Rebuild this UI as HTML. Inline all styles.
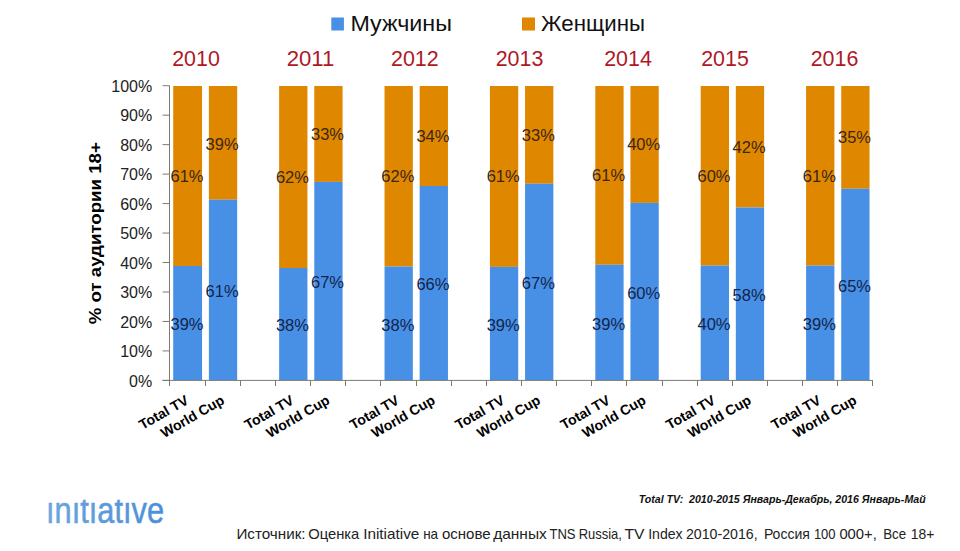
<!DOCTYPE html>
<html lang="ru"><head><meta charset="utf-8"><title>chart</title>
<style>html,body{margin:0;padding:0;background:#fff}body{width:960px;height:551px;overflow:hidden}svg{display:block}text{font-family:"Liberation Sans", sans-serif}</style></head><body>
<svg width="960" height="551" viewBox="0 0 960 551">
<rect width="960" height="551" fill="#fff"/>
<rect x="331.3" y="17.5" width="12.6" height="13" fill="#4890E6"/>
<text x="350.4" y="30.8" font-size="21.2" fill="#111" textLength="101.5" lengthAdjust="spacingAndGlyphs">Мужчины</text>
<rect x="522" y="17.5" width="13" height="13" fill="#E08700"/>
<text x="541" y="30.8" font-size="21.2" fill="#111" textLength="104" lengthAdjust="spacingAndGlyphs">Женщины</text>
<text x="196.0" y="66" font-size="22.5" fill="#B01825" text-anchor="middle" textLength="47.6" lengthAdjust="spacingAndGlyphs">2010</text>
<text x="310.5" y="66" font-size="22.5" fill="#B01825" text-anchor="middle" textLength="47.6" lengthAdjust="spacingAndGlyphs">2011</text>
<text x="414.8" y="66" font-size="22.5" fill="#B01825" text-anchor="middle" textLength="47.6" lengthAdjust="spacingAndGlyphs">2012</text>
<text x="519.5" y="66" font-size="22.5" fill="#B01825" text-anchor="middle" textLength="47.6" lengthAdjust="spacingAndGlyphs">2013</text>
<text x="628.0" y="66" font-size="22.5" fill="#B01825" text-anchor="middle" textLength="47.6" lengthAdjust="spacingAndGlyphs">2014</text>
<text x="725.0" y="66" font-size="22.5" fill="#B01825" text-anchor="middle" textLength="47.6" lengthAdjust="spacingAndGlyphs">2015</text>
<text x="834.5" y="66" font-size="22.5" fill="#B01825" text-anchor="middle" textLength="47.6" lengthAdjust="spacingAndGlyphs">2016</text>
<rect x="173.20" y="86.00" width="28.85" height="180.00" fill="#E08700"/>
<rect x="173.20" y="266.00" width="28.85" height="114.40" fill="#4890E6"/>
<rect x="208.88" y="86.00" width="28.30" height="113.70" fill="#E08700"/>
<rect x="208.88" y="199.70" width="28.30" height="180.70" fill="#4890E6"/>
<rect x="279.14" y="86.00" width="28.30" height="182.00" fill="#E08700"/>
<rect x="279.14" y="268.00" width="28.30" height="112.40" fill="#4890E6"/>
<rect x="314.27" y="86.00" width="28.30" height="95.90" fill="#E08700"/>
<rect x="314.27" y="181.90" width="28.30" height="198.50" fill="#4890E6"/>
<rect x="384.53" y="86.00" width="28.30" height="180.50" fill="#E08700"/>
<rect x="384.53" y="266.50" width="28.30" height="113.90" fill="#4890E6"/>
<rect x="419.66" y="86.00" width="28.30" height="100.00" fill="#E08700"/>
<rect x="419.66" y="186.00" width="28.30" height="194.40" fill="#4890E6"/>
<rect x="489.92" y="86.00" width="28.30" height="180.90" fill="#E08700"/>
<rect x="489.92" y="266.90" width="28.30" height="113.50" fill="#4890E6"/>
<rect x="525.05" y="86.00" width="28.30" height="97.75" fill="#E08700"/>
<rect x="525.05" y="183.75" width="28.30" height="196.65" fill="#4890E6"/>
<rect x="595.31" y="86.00" width="28.30" height="178.75" fill="#E08700"/>
<rect x="595.31" y="264.75" width="28.30" height="115.65" fill="#4890E6"/>
<rect x="630.44" y="86.00" width="28.30" height="116.90" fill="#E08700"/>
<rect x="630.44" y="202.90" width="28.30" height="177.50" fill="#4890E6"/>
<rect x="700.70" y="86.00" width="28.30" height="179.60" fill="#E08700"/>
<rect x="700.70" y="265.60" width="28.30" height="114.80" fill="#4890E6"/>
<rect x="735.83" y="86.00" width="28.30" height="121.50" fill="#E08700"/>
<rect x="735.83" y="207.50" width="28.30" height="172.90" fill="#4890E6"/>
<rect x="806.09" y="86.00" width="28.30" height="179.60" fill="#E08700"/>
<rect x="806.09" y="265.60" width="28.30" height="114.80" fill="#4890E6"/>
<rect x="841.22" y="86.00" width="28.30" height="102.75" fill="#E08700"/>
<rect x="841.22" y="188.75" width="28.30" height="191.65" fill="#4890E6"/>
<g stroke="#7e7a72" stroke-width="1" fill="none">
<path d="M169.5 85.7V380.4"/>
<path d="M162.5 380.4H873.0"/>
<path d="M162.5 380.40H169.5"/>
<path d="M162.5 350.93H169.5"/>
<path d="M162.5 321.46H169.5"/>
<path d="M162.5 291.99H169.5"/>
<path d="M162.5 262.52H169.5"/>
<path d="M162.5 233.05H169.5"/>
<path d="M162.5 203.58H169.5"/>
<path d="M162.5 174.11H169.5"/>
<path d="M162.5 144.64H169.5"/>
<path d="M162.5 115.17H169.5"/>
<path d="M162.5 85.70H169.5"/>
<path d="M169.50 380.4V386.0"/>
<path d="M205.50 380.4V386.0"/>
<path d="M240.50 380.4V386.0"/>
<path d="M275.50 380.4V386.0"/>
<path d="M310.50 380.4V386.0"/>
<path d="M345.50 380.4V386.0"/>
<path d="M380.50 380.4V386.0"/>
<path d="M416.50 380.4V386.0"/>
<path d="M451.50 380.4V386.0"/>
<path d="M486.50 380.4V386.0"/>
<path d="M521.50 380.4V386.0"/>
<path d="M556.50 380.4V386.0"/>
<path d="M591.50 380.4V386.0"/>
<path d="M626.50 380.4V386.0"/>
<path d="M662.50 380.4V386.0"/>
<path d="M697.50 380.4V386.0"/>
<path d="M732.50 380.4V386.0"/>
<path d="M767.50 380.4V386.0"/>
<path d="M802.50 380.4V386.0"/>
<path d="M837.50 380.4V386.0"/>
<path d="M872.50 380.4V386.0"/>
</g>
<text x="152.2" y="386.6" font-size="16" fill="#222" text-anchor="end">0%</text>
<text x="152.2" y="357.1" font-size="16" fill="#222" text-anchor="end">10%</text>
<text x="152.2" y="327.7" font-size="16" fill="#222" text-anchor="end">20%</text>
<text x="152.2" y="298.2" font-size="16" fill="#222" text-anchor="end">30%</text>
<text x="152.2" y="268.7" font-size="16" fill="#222" text-anchor="end">40%</text>
<text x="152.2" y="239.2" font-size="16" fill="#222" text-anchor="end">50%</text>
<text x="152.2" y="209.8" font-size="16" fill="#222" text-anchor="end">60%</text>
<text x="152.2" y="180.3" font-size="16" fill="#222" text-anchor="end">70%</text>
<text x="152.2" y="150.8" font-size="16" fill="#222" text-anchor="end">80%</text>
<text x="152.2" y="121.4" font-size="16" fill="#222" text-anchor="end">90%</text>
<text x="152.2" y="91.9" font-size="16" fill="#222" text-anchor="end">100%</text>
<text transform="translate(100.6 233.2) rotate(-90)" font-size="17" font-weight="bold" fill="#000" text-anchor="middle" textLength="182" lengthAdjust="spacingAndGlyphs">% от аудитории 18+</text>
<text x="187.0" y="330.4" font-size="16.8" fill="#12244a" text-anchor="middle" textLength="33" lengthAdjust="spacingAndGlyphs">39%</text>
<text x="187.0" y="181.9" font-size="16.8" fill="#3a2614" text-anchor="middle" textLength="33" lengthAdjust="spacingAndGlyphs">61%</text>
<text x="222.1" y="297.2" font-size="16.8" fill="#12244a" text-anchor="middle" textLength="33" lengthAdjust="spacingAndGlyphs">61%</text>
<text x="222.1" y="149.8" font-size="16.8" fill="#3a2614" text-anchor="middle" textLength="33" lengthAdjust="spacingAndGlyphs">39%</text>
<text x="292.4" y="331.4" font-size="16.8" fill="#12244a" text-anchor="middle" textLength="33" lengthAdjust="spacingAndGlyphs">38%</text>
<text x="292.4" y="182.9" font-size="16.8" fill="#3a2614" text-anchor="middle" textLength="33" lengthAdjust="spacingAndGlyphs">62%</text>
<text x="327.5" y="288.3" font-size="16.8" fill="#12244a" text-anchor="middle" textLength="33" lengthAdjust="spacingAndGlyphs">67%</text>
<text x="327.5" y="139.9" font-size="16.8" fill="#3a2614" text-anchor="middle" textLength="33" lengthAdjust="spacingAndGlyphs">33%</text>
<text x="397.8" y="330.6" font-size="16.8" fill="#12244a" text-anchor="middle" textLength="33" lengthAdjust="spacingAndGlyphs">38%</text>
<text x="397.8" y="182.2" font-size="16.8" fill="#3a2614" text-anchor="middle" textLength="33" lengthAdjust="spacingAndGlyphs">62%</text>
<text x="432.9" y="290.4" font-size="16.8" fill="#12244a" text-anchor="middle" textLength="33" lengthAdjust="spacingAndGlyphs">66%</text>
<text x="432.9" y="141.9" font-size="16.8" fill="#3a2614" text-anchor="middle" textLength="33" lengthAdjust="spacingAndGlyphs">34%</text>
<text x="503.2" y="330.8" font-size="16.8" fill="#12244a" text-anchor="middle" textLength="33" lengthAdjust="spacingAndGlyphs">39%</text>
<text x="503.2" y="182.4" font-size="16.8" fill="#3a2614" text-anchor="middle" textLength="33" lengthAdjust="spacingAndGlyphs">61%</text>
<text x="538.3" y="289.3" font-size="16.8" fill="#12244a" text-anchor="middle" textLength="33" lengthAdjust="spacingAndGlyphs">67%</text>
<text x="538.3" y="140.8" font-size="16.8" fill="#3a2614" text-anchor="middle" textLength="33" lengthAdjust="spacingAndGlyphs">33%</text>
<text x="608.6" y="329.8" font-size="16.8" fill="#12244a" text-anchor="middle" textLength="33" lengthAdjust="spacingAndGlyphs">39%</text>
<text x="608.6" y="181.3" font-size="16.8" fill="#3a2614" text-anchor="middle" textLength="33" lengthAdjust="spacingAndGlyphs">61%</text>
<text x="643.7" y="298.8" font-size="16.8" fill="#12244a" text-anchor="middle" textLength="33" lengthAdjust="spacingAndGlyphs">60%</text>
<text x="643.7" y="150.4" font-size="16.8" fill="#3a2614" text-anchor="middle" textLength="33" lengthAdjust="spacingAndGlyphs">40%</text>
<text x="714.0" y="330.2" font-size="16.8" fill="#12244a" text-anchor="middle" textLength="33" lengthAdjust="spacingAndGlyphs">40%</text>
<text x="714.0" y="181.8" font-size="16.8" fill="#3a2614" text-anchor="middle" textLength="33" lengthAdjust="spacingAndGlyphs">60%</text>
<text x="749.1" y="301.1" font-size="16.8" fill="#12244a" text-anchor="middle" textLength="33" lengthAdjust="spacingAndGlyphs">58%</text>
<text x="749.1" y="152.7" font-size="16.8" fill="#3a2614" text-anchor="middle" textLength="33" lengthAdjust="spacingAndGlyphs">42%</text>
<text x="819.3" y="330.2" font-size="16.8" fill="#12244a" text-anchor="middle" textLength="33" lengthAdjust="spacingAndGlyphs">39%</text>
<text x="819.3" y="181.8" font-size="16.8" fill="#3a2614" text-anchor="middle" textLength="33" lengthAdjust="spacingAndGlyphs">61%</text>
<text x="854.5" y="291.8" font-size="16.8" fill="#12244a" text-anchor="middle" textLength="33" lengthAdjust="spacingAndGlyphs">65%</text>
<text x="854.5" y="143.3" font-size="16.8" fill="#3a2614" text-anchor="middle" textLength="33" lengthAdjust="spacingAndGlyphs">35%</text>
<text transform="translate(189.5 403.0) rotate(-30)" font-size="14" font-weight="bold" fill="#000" text-anchor="end">Total TV</text>
<text transform="translate(225.3 403.0) rotate(-30)" font-size="14" font-weight="bold" fill="#000" text-anchor="end">World Cup</text>
<text transform="translate(294.9 403.0) rotate(-30)" font-size="14" font-weight="bold" fill="#000" text-anchor="end">Total TV</text>
<text transform="translate(330.7 403.0) rotate(-30)" font-size="14" font-weight="bold" fill="#000" text-anchor="end">World Cup</text>
<text transform="translate(400.2 403.0) rotate(-30)" font-size="14" font-weight="bold" fill="#000" text-anchor="end">Total TV</text>
<text transform="translate(436.1 403.0) rotate(-30)" font-size="14" font-weight="bold" fill="#000" text-anchor="end">World Cup</text>
<text transform="translate(505.6 403.0) rotate(-30)" font-size="14" font-weight="bold" fill="#000" text-anchor="end">Total TV</text>
<text transform="translate(541.5 403.0) rotate(-30)" font-size="14" font-weight="bold" fill="#000" text-anchor="end">World Cup</text>
<text transform="translate(611.0 403.0) rotate(-30)" font-size="14" font-weight="bold" fill="#000" text-anchor="end">Total TV</text>
<text transform="translate(646.9 403.0) rotate(-30)" font-size="14" font-weight="bold" fill="#000" text-anchor="end">World Cup</text>
<text transform="translate(716.4 403.0) rotate(-30)" font-size="14" font-weight="bold" fill="#000" text-anchor="end">Total TV</text>
<text transform="translate(752.2 403.0) rotate(-30)" font-size="14" font-weight="bold" fill="#000" text-anchor="end">World Cup</text>
<text transform="translate(821.8 403.0) rotate(-30)" font-size="14" font-weight="bold" fill="#000" text-anchor="end">Total TV</text>
<text transform="translate(857.6 403.0) rotate(-30)" font-size="14" font-weight="bold" fill="#000" text-anchor="end">World Cup</text>
<clipPath id="lc"><rect x="40" y="499.8" width="140" height="30"/></clipPath>
<linearGradient id="lg" gradientUnits="userSpaceOnUse" x1="48" y1="0" x2="164" y2="0"><stop offset="0" stop-color="#6aa6dc"/><stop offset="1" stop-color="#4a8fd8"/></linearGradient>
<text clip-path="url(#lc)" x="46" y="522.6" font-size="36.6" fill="url(#lg)" stroke="url(#lg)" stroke-width="0.55" stroke-linejoin="round" textLength="118" lengthAdjust="spacingAndGlyphs">&#305;n&#305;t&#305;at&#305;ve</text>
<text x="925.7" y="503" font-size="11.8" font-weight="bold" font-style="italic" fill="#111" text-anchor="end" textLength="287" lengthAdjust="spacingAndGlyphs" xml:space="preserve">Total TV:  2010-2015 Январь-Декабрь, 2016 Январь-Май</text>
<g font-size="14.5" fill="#222">
<text x="236.40" y="539.3" textLength="69.20" lengthAdjust="spacingAndGlyphs">Источник:</text>
<text x="308.15" y="539.3" textLength="51.20" lengthAdjust="spacingAndGlyphs">Оценка</text>
<text x="363.15" y="539.3" textLength="56.20" lengthAdjust="spacingAndGlyphs">Initiative</text>
<text x="423.15" y="539.3" textLength="14.95" lengthAdjust="spacingAndGlyphs">на</text>
<text x="441.90" y="539.3" textLength="48.70" lengthAdjust="spacingAndGlyphs">основе</text>
<text x="493.15" y="539.3" textLength="53.70" lengthAdjust="spacingAndGlyphs">данных</text>
<text x="549.40" y="539.3" textLength="26.20" lengthAdjust="spacingAndGlyphs">TNS</text>
<text x="578.65" y="539.3" textLength="43.20" lengthAdjust="spacingAndGlyphs">Russia,</text>
<text x="624.40" y="539.3" textLength="19.95" lengthAdjust="spacingAndGlyphs">TV</text>
<text x="648.15" y="539.3" textLength="34.45" lengthAdjust="spacingAndGlyphs">Index</text>
<text x="685.90" y="539.3" textLength="71.70" lengthAdjust="spacingAndGlyphs">2010-2016,</text>
<text x="763.90" y="539.3" textLength="45.95" lengthAdjust="spacingAndGlyphs">Россия</text>
<text x="813.90" y="539.3" textLength="21.70" lengthAdjust="spacingAndGlyphs">100</text>
<text x="839.40" y="539.3" textLength="37.45" lengthAdjust="spacingAndGlyphs">000+,</text>
<text x="883.15" y="539.3" textLength="22.95" lengthAdjust="spacingAndGlyphs">Все</text>
<text x="910.65" y="539.3" textLength="23.70" lengthAdjust="spacingAndGlyphs">18+</text>
</g>
</svg></body></html>
